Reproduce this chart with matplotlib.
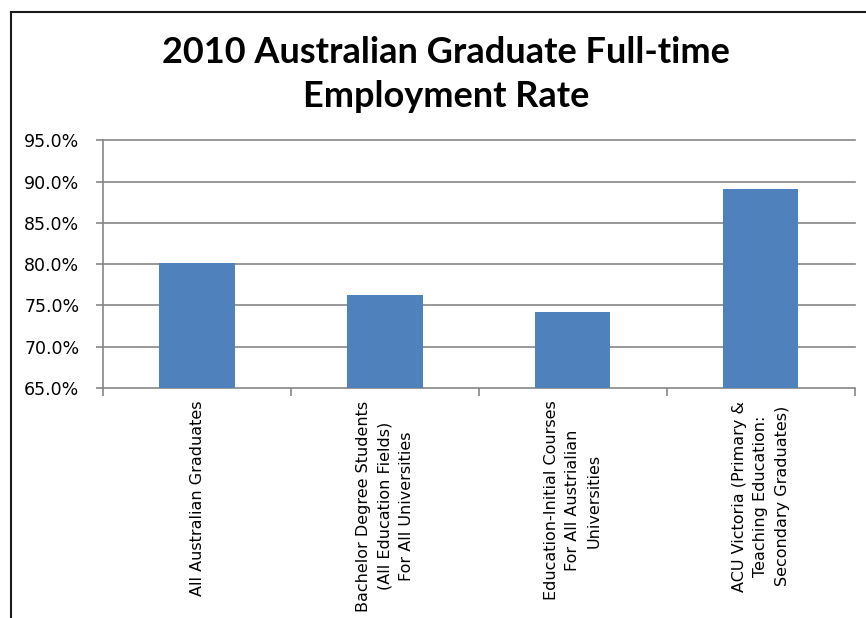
import numpy as np
import matplotlib.pyplot as plt
from matplotlib.lines import Line2D
from matplotlib.ticker import FuncFormatter

# data
categories = [
    "All Australian Graduates",
    "Bachelor Degree Students\n(All Education Fields)\nFor All Universities",
    "Education-Initial Courses\nFor All Austrialian\nUniversities",
    "ACU Victoria (Primary &\nTeaching Education:\nSecondary Graduates)",
]
rates = [80.1, 76.3, 74.2, 89.1]
yticks = [65, 70, 75, 80, 85, 90, 95]

bar_color = '#4F81BD'
grid_color = '#868686'

fig = plt.figure(figsize=(8.66, 6.18), dpi=100)
ax = fig.add_axes([0.119, 0.372, 0.868, 0.401])

x = np.arange(len(categories))
ax.bar(x, rates, width=0.40, color=bar_color, zorder=3)

ax.set_xlim(-0.5, len(categories) - 0.5)
ax.set_ylim(yticks[0], yticks[-1])
ax.set_yticks(yticks)
ax.yaxis.set_major_formatter(FuncFormatter(lambda v, p: f"{v:.1f}%"))

for v in yticks[1:]:
    ax.axhline(v, color=grid_color, lw=1.2, zorder=1, clip_on=False)

# category labels
ax.set_xticks(x)
ax.set_xticklabels(categories, rotation=90, fontsize=11.5, linespacing=1.55,
                   multialignment='center', va='top', ha='center')
ax.tick_params(axis='x', which='major', length=0, pad=9)
ax.set_xticks(np.arange(-0.5, len(categories)), minor=True)
ax.tick_params(axis='x', which='minor', length=6, color=grid_color, width=1.2)
ax.tick_params(axis='y', length=5, color=grid_color, width=1.2, labelsize=12.5, pad=12)

for side in ['top', 'right']:
    ax.spines[side].set_visible(False)
for side in ['left', 'bottom']:
    ax.spines[side].set_color(grid_color)
    ax.spines[side].set_linewidth(1.2)

fig.text(0.515, 0.942, "2010 Australian Graduate Full-time\nEmployment Rate",
         ha='center', va='top', fontsize=26, fontweight='bold', family='Lato',
         linespacing=1.4)

# chart frame (only top and left edges visible in the crop)
fig.add_artist(Line2D([11/866, 1], [1 - 12/618, 1 - 12/618], color='#1a1a1a', lw=1.5))
fig.add_artist(Line2D([11/866, 11/866], [0, 1 - 12/618], color='#1a1a1a', lw=1.5))

fig.savefig('out.png', dpi=100)
